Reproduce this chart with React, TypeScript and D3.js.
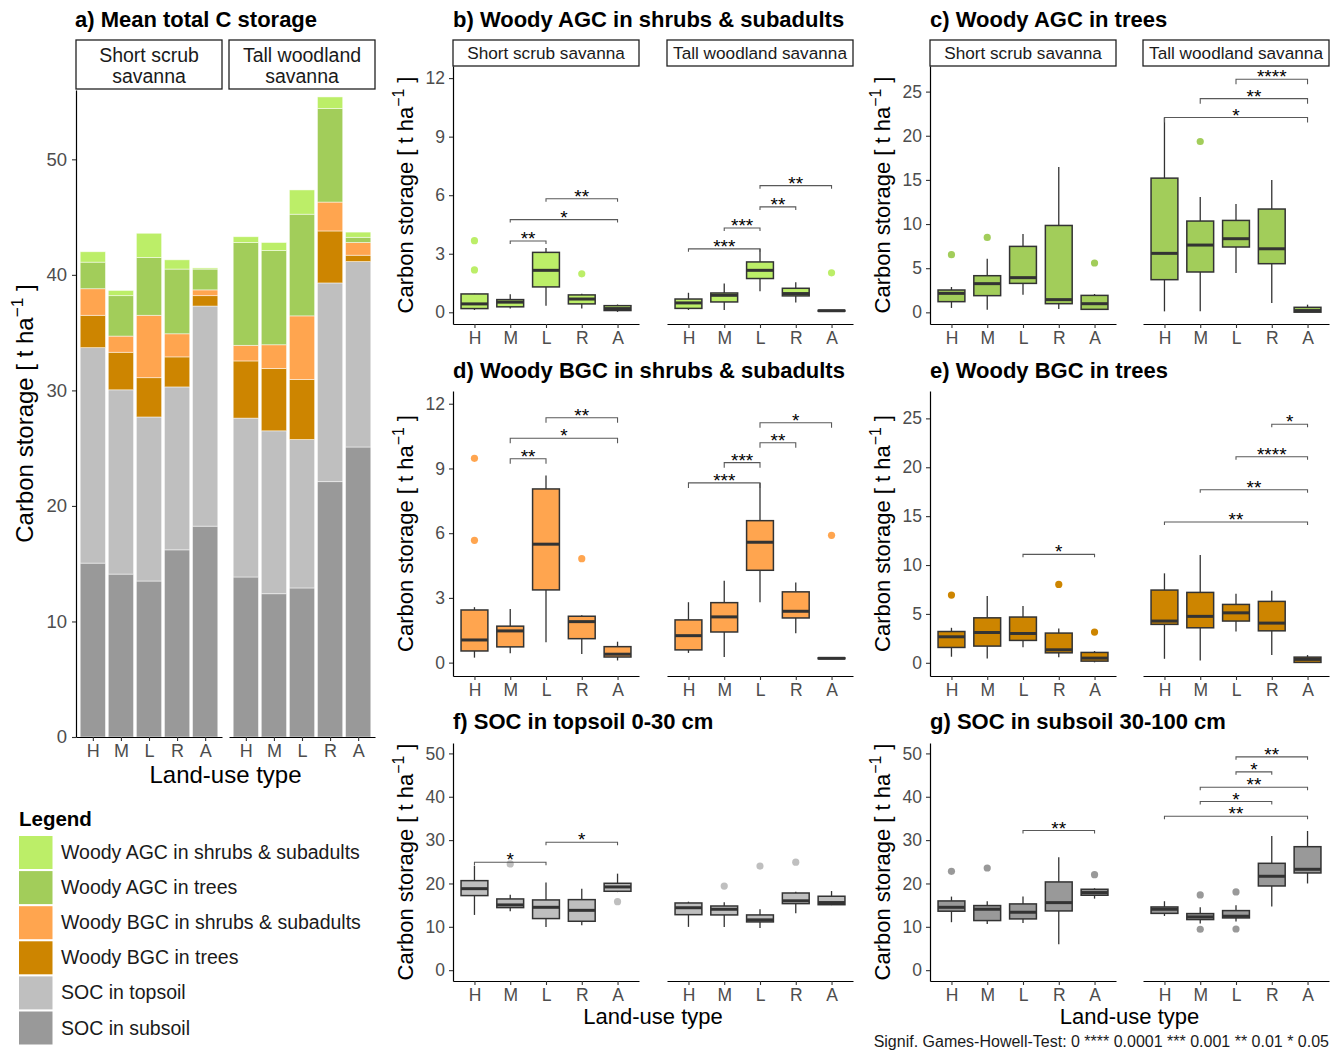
import { useEffect, useRef } from 'react'
import * as d3 from 'd3'

const FONT = "'Liberation Sans', Arial, Helvetica, sans-serif"

const landUse = ['H', 'M', 'L', 'R', 'A']
const savannas = ['Short scrub savanna', 'Tall woodland savanna']
const savannaLines = [['Short scrub', 'savanna'], ['Tall woodland', 'savanna']]

// panel a: mean C stock per pool, first 5 = short scrub, last 5 = tall woodland
const socSubsoil = [15.05, 14.1, 13.5, 16.2, 18.25, 13.85, 12.4, 12.9, 22.1, 25.1]
const socTopsoil = [18.65, 15.95, 14.2, 14.1, 19.05, 13.75, 14.1, 12.85, 17.2, 16.05]
const bgcTrees = [2.8, 3.25, 3.4, 2.6, 0.9, 4.95, 5.4, 5.2, 4.5, 0.55]
const bgcShrubs = [2.3, 1.4, 5.4, 2.0, 0.5, 1.35, 2.05, 5.5, 2.5, 1.1]
const agcTrees = [2.3, 3.5, 5.0, 5.6, 1.8, 8.9, 8.15, 8.8, 8.1, 0.45]
const agcShrubs = [0.9, 0.45, 2.1, 0.8, 0.1, 0.5, 0.7, 2.1, 1.0, 0.45]

const poolNames = [
  'Woody AGC in shrubs & subadults',
  'Woody AGC in trees',
  'Woody BGC in shrubs & subadults',
  'Woody BGC in trees',
  'SOC in topsoil',
  'SOC in subsoil',
]
const poolColors = ['#BCEE68', '#A2CD5A', '#FFA54F', '#CD8500', '#BFBFBF', '#999999']

// boxplot stats per land-use: [lower whisker, q1, median, q3, upper whisker]
const agcShrubShort = [[0.12, 0.19, 0.43, 0.94, 0.96], [0.2, 0.28, 0.52, 0.65, 0.92], [0.34, 1.3, 2.15, 3.07, 3.3], [0.19, 0.43, 0.68, 0.89, 0.95], [0.02, 0.09, 0.19, 0.34, 0.4]]
const agcShrubTall = [[0.12, 0.2, 0.48, 0.68, 1.0], [0.12, 0.53, 0.87, 0.99, 1.47], [1.08, 1.73, 2.15, 2.58, 3.25], [0.5, 0.84, 0.96, 1.23, 1.54], [0.06, 0.06, 0.08, 0.1, 0.1]]
const agcShrubShortOut = [[3.67, 2.17], [], [], [1.97], []]
const agcShrubTallOut = [[], [], [], [], [2.02]]
const agcShrubShortSig = [['M', 'L', 3.65, '**'], ['M', 'A', 4.75, '*'], ['L', 'A', 5.82, '**']]
const agcShrubTallSig = [['H', 'L', 3.25, '***'], ['M', 'L', 4.32, '***'], ['L', 'R', 5.4, '**'], ['L', 'A', 6.49, '**']]

const agcTreeShort = [[0.5, 1.21, 2.15, 2.53, 2.87], [0.3, 1.89, 3.25, 4.15, 6.07], [2.0, 3.28, 3.93, 7.47, 8.87], [0.38, 0.98, 1.44, 9.84, 16.45], [0.3, 0.34, 0.98, 1.92, 2.08]]
const agcTreeTall = [[0.11, 3.7, 6.68, 15.2, 22.06], [0.11, 4.57, 7.62, 10.34, 13.05], [4.46, 7.4, 8.34, 10.41, 12.26], [1.06, 5.51, 7.2, 11.7, 15.0], [0.0, 0.02, 0.2, 0.57, 0.87]]
const agcTreeShortOut = [[6.53], [8.48], [], [], [5.59]]
const agcTreeTallOut = [[], [19.35], [], [], []]
const agcTreeShortSig: any[] = []
const agcTreeTallSig = [['H', 'A', 22.06, '*'], ['M', 'A', 24.2, '**'], ['L', 'A', 26.4, '****']]

const bgcShrubShort = [[0.23, 0.54, 1.05, 2.44, 2.57], [0.43, 0.73, 1.47, 1.69, 2.49], [0.94, 3.37, 5.49, 8.05, 8.67], [0.4, 1.11, 1.9, 2.15, 2.2], [0.1, 0.26, 0.39, 0.74, 0.97]]
const bgcShrubTall = [[0.45, 0.59, 1.25, 1.98, 2.8], [0.26, 1.42, 2.12, 2.78, 3.8], [2.8, 4.28, 5.58, 6.58, 8.33], [1.36, 2.07, 2.38, 3.28, 3.71], [0.18, 0.18, 0.2, 0.22, 0.22]]
const bgcShrubShortOut = [[9.47, 5.67], [], [], [4.82], []]
const bgcShrubTallOut = [[], [], [], [], [5.9]]
const bgcShrubShortSig = [['M', 'L', 9.45, '**'], ['M', 'A', 10.4, '*'], ['L', 'A', 11.35, '**']]
const bgcShrubTallSig = [['H', 'L', 8.33, '***'], ['M', 'L', 9.27, '***'], ['L', 'R', 10.19, '**'], ['L', 'A', 11.12, '*']]

const bgcTreeShort = [[0.62, 1.57, 2.66, 3.2, 3.58], [0.45, 1.71, 3.1, 4.6, 6.82], [1.6, 2.29, 3.0, 4.68, 5.8], [0.58, 1.02, 1.33, 3.04, 3.52], [0.05, 0.17, 0.48, 1.06, 1.2]]
const bgcTreeTall = [[0.41, 3.93, 4.27, 7.44, 9.15], [0.24, 3.58, 4.75, 7.2, 11.02], [3.2, 4.27, 5.11, 5.97, 7.06], [0.79, 3.27, 4.06, 6.28, 7.37], [0.02, 0.04, 0.35, 0.58, 0.79]]
const bgcTreeShortOut = [[6.93], [], [], [8.02], [3.14]]
const bgcTreeTallOut = [[], [], [], [], []]
const bgcTreeShortSig = [['L', 'A', 11.09, '*']]
const bgcTreeTallSig = [['H', 'A', 14.4, '**'], ['M', 'A', 17.7, '**'], ['L', 'A', 21.07, '****'], ['R', 'A', 24.4, '*']]

const topsoilShort = [[12.74, 17.2, 18.8, 20.65, 24.1], [13.6, 14.43, 15.05, 16.43, 17.42], [9.98, 11.9, 14.5, 16.2, 20.2], [10.36, 11.28, 13.8, 16.27, 18.8], [18.0, 18.2, 19.2, 20.04, 22.26]]
const topsoilTall = [[9.98, 12.8, 14.4, 15.5, 15.8], [9.98, 12.74, 14.05, 14.8, 15.65], [9.75, 11.13, 11.6, 12.74, 14.05], [13.1, 15.35, 16.0, 17.8, 18.1], [15.0, 15.1, 15.6, 17.05, 18.25]]
const topsoilShortOut = [[], [24.5], [], [], [15.8]]
const topsoilTallOut = [[], [19.4], [24.0], [24.9], []]
const topsoilShortSig = [['H', 'L', 24.9, '*'], ['L', 'A', 29.5, '*']]
const topsoilTallSig: any[] = []

const subsoilShort = [[11.06, 13.6, 14.5, 15.97, 16.97], [10.67, 11.44, 14.05, 14.9, 15.9], [10.9, 11.82, 13.36, 15.28, 16.97], [5.99, 13.66, 15.58, 20.35, 26.04], [16.5, 17.28, 17.9, 18.66, 18.9]]
const subsoilTall = [[12.5, 13.1, 14.05, 14.58, 15.9], [10.75, 11.67, 12.28, 13.05, 14.5], [11.2, 12.05, 12.44, 13.74, 15.0], [14.66, 19.42, 21.66, 24.65, 30.94], [20.0, 22.42, 23.27, 28.48, 32.1]]
const subsoilShortOut = [[22.8], [23.57], [], [], [22.03]]
const subsoilTallOut = [[], [17.35, 9.44], [18.04, 9.5], [], []]
const subsoilShortSig = [['L', 'A', 32.2, '**']]
const subsoilTallSig = [['H', 'A', 35.5, '**'], ['M', 'R', 38.9, '*'], ['M', 'A', 42.2, '**'], ['L', 'R', 45.75, '*'], ['L', 'A', 49.2, '**']]

const colLeft = [[453, 639], [667, 853]]
const colRight = [[930, 1116], [1143, 1329]]

function styleAxis(g, size) {
  g.attr('font-family', FONT).attr('font-size', size)
  g.select('.domain').attr('stroke', '#000').attr('stroke-width', 1.2)
  g.selectAll('.tick line').attr('stroke', '#333').attr('stroke-width', 1.1)
  g.selectAll('.tick text').attr('fill', '#4D4D4D')
}

function yTitle(svg, x, yc, size) {
  const t = svg
    .append('text')
    .attr('transform', `translate(${x},${yc}) rotate(-90)`)
    .attr('text-anchor', 'middle')
    .attr('font-family', FONT)
    .attr('font-size', size)
  t.append('tspan').text('Carbon storage [ t ha')
  t.append('tspan').attr('dy', -size * 0.42).attr('font-size', size * 0.72).text('−1')
  t.append('tspan').attr('dy', size * 0.42).text(' ]')
}

function drawBoxPanel(svg, p) {
  const y = d3.scaleLinear().domain(p.domain).range([p.bottom, p.top])
  svg.append('text').attr('x', p.cols[0][0]).attr('y', p.titleY).text(p.title)
    .attr('font-family', FONT).attr('font-weight', 'bold').attr('font-size', 22)
  yTitle(svg, p.cols[0][0] - 40, (p.top + p.bottom) / 2, 22)

  p.cols.forEach(([x0, x1], fi) => {
    const x = d3.scalePoint().domain(landUse).range([x0, x1]).padding(0.6)
    const bw = x.step() * 0.75
    const g = svg.append('g')
    if (p.strips) {
      g.append('rect').attr('x', x0).attr('y', 40).attr('width', x1 - x0).attr('height', p.top - 40)
        .attr('fill', '#fff').attr('stroke', '#222').attr('stroke-width', 1.3)
      g.append('text').attr('x', (x0 + x1) / 2).attr('y', 59).attr('text-anchor', 'middle')
        .attr('font-family', FONT).attr('font-size', 17.2).attr('fill', '#1A1A1A').text(savannas[fi])
    }
    if (fi === 0) {
      const ay = g.append('g').attr('transform', `translate(${x0},0)`)
        .call(d3.axisLeft(y).tickValues(p.ticks).tickSize(4).tickSizeOuter(0).tickPadding(4))
      styleAxis(ay, 17.5)
    }
    const ax = g.append('g').attr('transform', `translate(0,${p.bottom})`)
      .call(d3.axisBottom(x).tickSize(4).tickSizeOuter(0).tickPadding(4))
    styleAxis(ax, 17.5)

    const stats = p.stats[fi]
    const outs = p.outliers[fi]
    landUse.forEach((c, i) => {
      const [lo, q1, med, q3, hi] = stats[i]
      const cx = x(c)
      g.append('line').attr('x1', cx).attr('x2', cx).attr('y1', y(hi)).attr('y2', y(q3)).attr('stroke', '#333').attr('stroke-width', 1.3)
      g.append('line').attr('x1', cx).attr('x2', cx).attr('y1', y(q1)).attr('y2', y(lo)).attr('stroke', '#333').attr('stroke-width', 1.3)
      g.append('rect').attr('x', cx - bw / 2).attr('width', bw).attr('y', y(q3)).attr('height', Math.max(0.5, y(q1) - y(q3)))
        .attr('fill', p.color).attr('stroke', '#333').attr('stroke-width', 1.5)
      g.append('line').attr('x1', cx - bw / 2).attr('x2', cx + bw / 2).attr('y1', y(med)).attr('y2', y(med))
        .attr('stroke', '#333').attr('stroke-width', 3)
      outs[i].forEach((v) => {
        g.append('circle').attr('cx', cx).attr('cy', y(v)).attr('r', 3.6).attr('fill', p.color)
      })
    })

    p.sig[fi].forEach(([a, b, v, label]) => {
      const yb = y(v)
      const xa = x(a)
      const xb = x(b)
      g.append('path').attr('d', `M${xa},${yb + p.tip}L${xa},${yb}L${xb},${yb}L${xb},${yb + p.tip}`)
        .attr('fill', 'none').attr('stroke', '#595959').attr('stroke-width', 1.1)
      g.append('text').attr('x', (xa + xb) / 2).attr('y', yb + 4).attr('text-anchor', 'middle')
        .attr('font-family', FONT).attr('font-size', 19).text(label)
    })
  })
}

function drawStackPanel(svg) {
  const top = 90
  const bottom = 737
  const cols = [[76, 222], [229, 375]]
  const y = d3.scaleLinear().domain([0, 56]).range([bottom, top])
  const keys = ['subsoil', 'topsoil', 'bgcT', 'bgcS', 'agcT', 'agcS']
  const keyColor = { subsoil: '#999999', topsoil: '#BFBFBF', bgcT: '#CD8500', bgcS: '#FFA54F', agcT: '#A2CD5A', agcS: '#BCEE68' }
  const rows = socSubsoil.map((v, i) => ({
    idx: i,
    subsoil: v,
    topsoil: socTopsoil[i],
    bgcT: bgcTrees[i],
    bgcS: bgcShrubs[i],
    agcT: agcTrees[i],
    agcS: agcShrubs[i],
  }))
  const series = d3.stack().keys(keys)(rows)

  svg.append('text').attr('x', 75).attr('y', 27).text('a) Mean total C storage')
    .attr('font-family', FONT).attr('font-weight', 'bold').attr('font-size', 22)
  yTitle(svg, 33, (top + bottom) / 2, 24)
  svg.append('text').attr('x', (76 + 375) / 2).attr('y', 782.5).attr('text-anchor', 'middle')
    .attr('font-family', FONT).attr('font-size', 24).text('Land-use type')

  const xs = cols.map(([x0, x1]) => d3.scalePoint().domain(landUse).range([x0, x1]).padding(0.6))

  cols.forEach(([x0, x1], fi) => {
    const g = svg.append('g')
    g.append('rect').attr('x', x0).attr('y', 40).attr('width', x1 - x0).attr('height', top - 41)
      .attr('fill', '#fff').attr('stroke', '#222').attr('stroke-width', 1.3)
    savannaLines[fi].forEach((line, li) => {
      g.append('text').attr('x', (x0 + x1) / 2).attr('y', 61.5 + li * 21).attr('text-anchor', 'middle')
        .attr('font-family', FONT).attr('font-size', 19.5).attr('fill', '#1A1A1A').text(line)
    })
  })

  series.forEach((s) => {
    svg.append('g').selectAll('rect').data(s).join('rect')
      .attr('x', (d) => {
        const fi = d.data.idx < 5 ? 0 : 1
        const xs0 = xs[fi]
        return xs0(landUse[d.data.idx % 5]) - xs0.step() * 0.45
      })
      .attr('width', (d) => xs[d.data.idx < 5 ? 0 : 1].step() * 0.9)
      .attr('y', (d) => y(d[1]))
      .attr('height', (d) => y(d[0]) - y(d[1]))
      .attr('fill', keyColor[s.key])
      .attr('stroke', '#fff').attr('stroke-opacity', 0.6).attr('stroke-width', 0.8)
  })

  cols.forEach(([x0], fi) => {
    if (fi === 0) {
      const ay = svg.append('g').attr('transform', `translate(${x0},0)`)
        .call(d3.axisLeft(y).tickValues([0, 10, 20, 30, 40, 50]).tickSize(4).tickSizeOuter(0).tickPadding(5))
      styleAxis(ay, 18.5)
    }
    const ax = svg.append('g').attr('transform', `translate(0,${bottom})`)
      .call(d3.axisBottom(xs[fi]).tickSize(4).tickSizeOuter(0).tickPadding(3.5))
    styleAxis(ax, 18)
  })
}

function drawLegend(svg) {
  svg.append('text').attr('x', 19).attr('y', 826).text('Legend')
    .attr('font-family', FONT).attr('font-weight', 'bold').attr('font-size', 20.5)
  const g = svg.append('g')
  poolNames.forEach((name, i) => {
    const top = 836 + i * 35.1
    g.append('rect').attr('x', 19).attr('y', top).attr('width', 33.5).attr('height', 33)
      .attr('fill', poolColors[i])
    g.append('text').attr('x', 61).attr('y', top + 23).text(name)
      .attr('font-family', FONT).attr('font-size', 19.5).attr('fill', '#1A1A1A')
  })
}

const App = () => {
  const svgRef = useRef<SVGSVGElement>(null)

  useEffect(() => {
    const svg = d3.select(svgRef.current)
    svg.selectAll('*').remove()
    svg.append('rect').attr('width', 1341).attr('height', 1055).attr('fill', '#fff')

    drawStackPanel(svg)
    drawLegend(svg)

    drawBoxPanel(svg, {
      title: 'b) Woody AGC in shrubs & subadults', titleY: 27, cols: colLeft, top: 66, bottom: 324, strips: true,
      domain: [-0.6, 12.62], ticks: [0, 3, 6, 9, 12], color: '#BCEE68', tip: 3,
      stats: [agcShrubShort, agcShrubTall], outliers: [agcShrubShortOut, agcShrubTallOut], sig: [agcShrubShortSig, agcShrubTallSig],
    })
    drawBoxPanel(svg, {
      title: 'c) Woody AGC in trees', titleY: 27, cols: colRight, top: 66, bottom: 324, strips: true,
      domain: [-1.32, 27.9], ticks: [0, 5, 10, 15, 20, 25], color: '#A2CD5A', tip: 5,
      stats: [agcTreeShort, agcTreeTall], outliers: [agcTreeShortOut, agcTreeTallOut], sig: [agcTreeShortSig, agcTreeTallSig],
    })
    drawBoxPanel(svg, {
      title: 'd) Woody BGC in shrubs & subadults', titleY: 378, cols: colLeft, top: 391, bottom: 676, strips: false,
      domain: [-0.62, 12.59], ticks: [0, 3, 6, 9, 12], color: '#FFA54F', tip: 5,
      stats: [bgcShrubShort, bgcShrubTall], outliers: [bgcShrubShortOut, bgcShrubTallOut], sig: [bgcShrubShortSig, bgcShrubTallSig],
    })
    drawBoxPanel(svg, {
      title: 'e) Woody BGC in trees', titleY: 378, cols: colRight, top: 391, bottom: 676, strips: false,
      domain: [-1.35, 27.8], ticks: [0, 5, 10, 15, 20, 25], color: '#CD8500', tip: 3,
      stats: [bgcTreeShort, bgcTreeTall], outliers: [bgcTreeShortOut, bgcTreeTallOut], sig: [bgcTreeShortSig, bgcTreeTallSig],
    })
    drawBoxPanel(svg, {
      title: 'f) SOC in topsoil 0-30 cm', titleY: 729, cols: colLeft, top: 743, bottom: 981, strips: false,
      domain: [-2.5, 52.4], ticks: [0, 10, 20, 30, 40, 50], color: '#BFBFBF', tip: 3,
      stats: [topsoilShort, topsoilTall], outliers: [topsoilShortOut, topsoilTallOut], sig: [topsoilShortSig, topsoilTallSig],
    })
    drawBoxPanel(svg, {
      title: 'g) SOC in subsoil 30-100 cm', titleY: 729, cols: colRight, top: 743, bottom: 981, strips: false,
      domain: [-2.5, 52.4], ticks: [0, 10, 20, 30, 40, 50], color: '#999999', tip: 3,
      stats: [subsoilShort, subsoilTall], outliers: [subsoilShortOut, subsoilTallOut], sig: [subsoilShortSig, subsoilTallSig],
    })

    svg.append('text').attr('x', 653).attr('y', 1024).attr('text-anchor', 'middle')
      .attr('font-family', FONT).attr('font-size', 22).text('Land-use type')
    svg.append('text').attr('x', 1129.5).attr('y', 1024).attr('text-anchor', 'middle')
      .attr('font-family', FONT).attr('font-size', 22).text('Land-use type')
    svg.append('text').attr('x', 1329).attr('y', 1047).attr('text-anchor', 'end')
      .attr('font-family', FONT).attr('font-size', 16).attr('fill', '#1A1A1A')
      .text('Signif. Games-Howell-Test: 0 **** 0.0001 *** 0.001 ** 0.01 * 0.05')
  }, [])

  return (
    <svg
      ref={svgRef}
      width={1341}
      height={1055}
      style={{ position: 'absolute', left: 0, top: 0, display: 'block' }}
    ></svg>
  )
}

export default App
